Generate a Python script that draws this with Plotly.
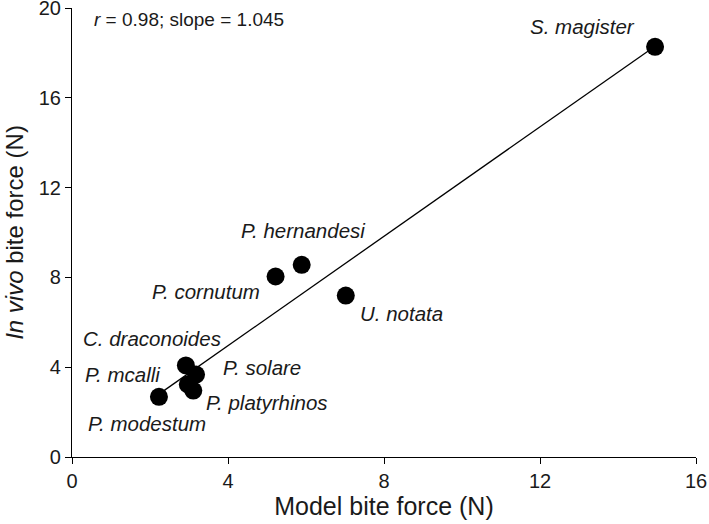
import plotly.graph_objects as go

# ---- data ----
species = ["S. magister", "P. hernandesi", "P. cornutum", "U. notata",
           "C. draconoides", "P. solare", "P. mcalli", "P. platyrhinos", "P. modestum"]
model_force = [14.95, 5.89, 5.22, 7.02, 2.92, 3.18, 2.97, 3.11, 2.23]
in_vivo_force = [18.27, 8.56, 8.04, 7.19, 4.08, 3.67, 3.23, 2.96, 2.68]
fit_x = [2.23, 14.95]
fit_y = [2.80, 18.30]
x_ticks = [0, 4, 8, 12, 16]
y_ticks = [0, 4, 8, 12, 16, 20]
stats_text = "<i>r</i> = 0.98; slope = 1.045"

# ---- label placement (layout only) ----
label_pos = {
    "S. magister": (14.49, 19.16, "right"),
    "P. hernandesi": (5.93, 10.07, "center"),
    "P. cornutum": (4.86, 7.35, "right"),
    "U. notata": (7.34, 6.41, "left"),
    "C. draconoides": (0.22, 5.28, "left"),
    "P. solare": (3.82, 3.97, "left"),
    "P. mcalli": (0.29, 3.68, "left"),
    "P. platyrhinos": (3.38, 2.41, "left"),
    "P. modestum": (0.36, 1.50, "left"),
}

FONT = "Liberation Sans, Arial, sans-serif"
TXT = "#1a1a1a"

fig = go.Figure()
fig.add_trace(go.Scatter(x=fit_x, y=fit_y, mode="lines",
                         line=dict(color="black", width=1.3),
                         showlegend=False, hoverinfo="skip", cliponaxis=False))
fig.add_trace(go.Scatter(x=model_force, y=in_vivo_force, mode="markers",
                         marker=dict(color="black", size=18),
                         text=species, showlegend=False, cliponaxis=False))

annotations = []
for name in species:
    ax, ay, anc = label_pos[name]
    annotations.append(dict(x=ax, y=ay, xref="x", yref="y", text=f"<i>{name}</i>",
                            showarrow=False, xanchor=anc, yanchor="middle",
                            font=dict(family=FONT, size=20.5, color=TXT)))
annotations.append(dict(x=0.51, y=19.47, xref="x", yref="y", text=stats_text,
                        showarrow=False, xanchor="left", yanchor="middle",
                        font=dict(family=FONT, size=19, color=TXT)))

axis_common = dict(showline=True, linecolor="black", linewidth=1.2,
                   ticks="outside", ticklen=6, tickwidth=1.2, tickcolor="black",
                   showgrid=False, zeroline=False, automargin=False,
                   ticklabeloverflow="allow",
                   tickfont=dict(family=FONT, size=20, color=TXT))

fig.update_layout(
    width=709, height=524,
    margin=dict(l=72, r=13, t=8, b=67),
    paper_bgcolor="white", plot_bgcolor="white",
    annotations=annotations,
    xaxis=dict(range=[0, 16], tickvals=x_ticks, **axis_common,
               title=dict(text="Model bite force (N)", standoff=4,
                          font=dict(family=FONT, size=25, color=TXT))),
    yaxis=dict(range=[0, 20], tickvals=y_ticks, **axis_common,
               title=dict(text="<i>In vivo</i> bite force (N)", standoff=8,
                          font=dict(family=FONT, size=24, color=TXT))),
)

fig.write_html("out.html", config={"displayModeBar": False},
               post_script="document.body.style.margin='0';document.body.style.overflow='hidden';")
